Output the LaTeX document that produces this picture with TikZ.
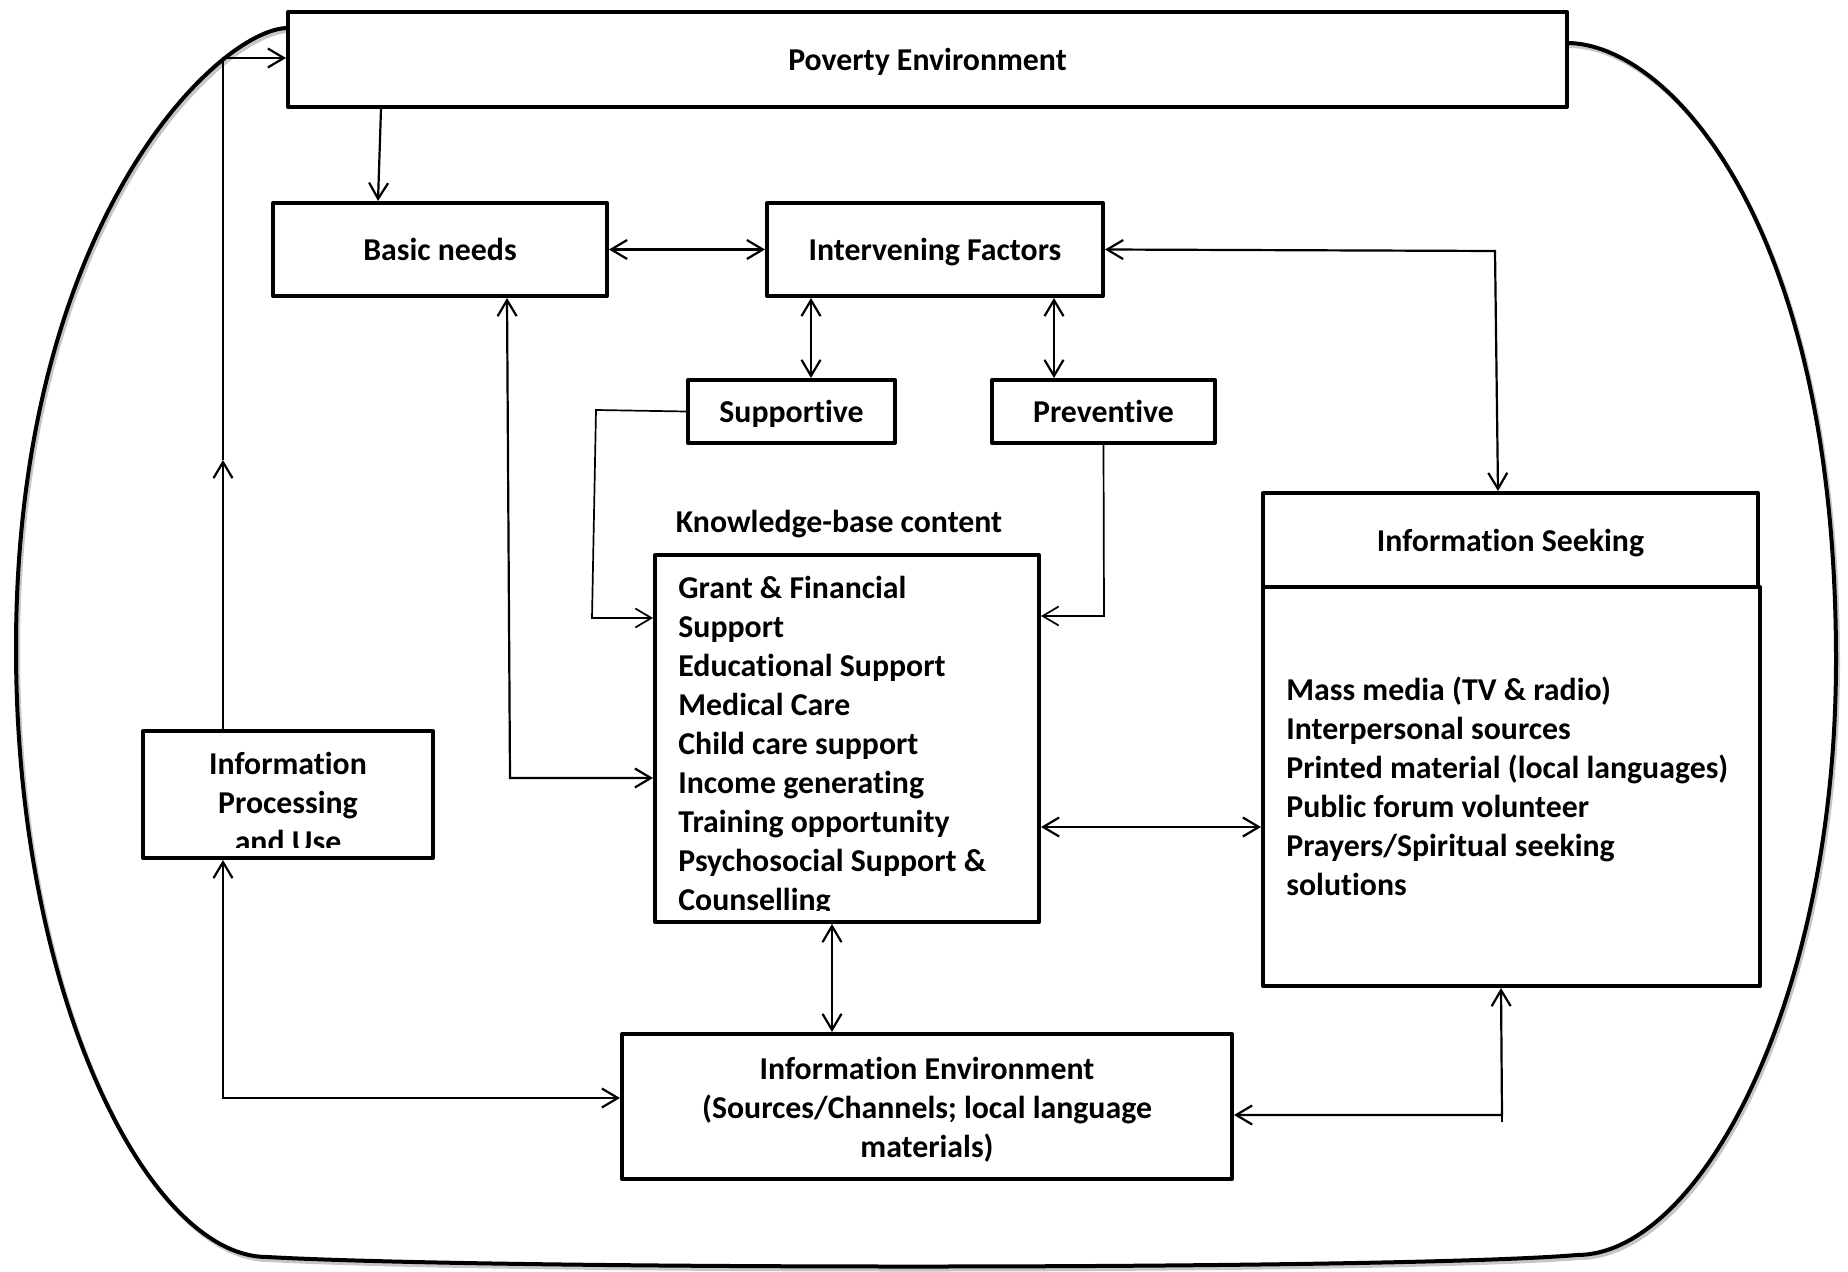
\documentclass[tikz,border=0pt]{standalone}
\usepackage{fontspec}
\setmainfont{Carlito}[Ligatures=NoCommon]
\usetikzlibrary{arrows.meta}
\newcommand\dfont{\bfseries\fontsize{15.9}{19.5}\selectfont}
\begin{document}
\begin{tikzpicture}[x=0.5pt,y=-0.5pt,
  box/.style={draw, line width=2pt, fill=white, inner sep=0pt, line join=round, font=\dfont},
  one/.style={text height=11.5pt, text depth=0pt},
  lbl/.style={inner sep=0pt, font=\dfont},
  con/.style={line width=1.1pt},
  thin/.style={line width=0.85pt},
  tip/.tip={Straight Barb[length=8pt,width=9.5pt]},
  arr/.style={con, -tip},
  darr/.style={con, tip-tip}]
\path[use as bounding box] (0,0) rectangle (1848,1272);

% outer loop
\draw[line width=2pt, line join=round,
      preaction={draw=gray!45, line width=2pt, transform canvas={xshift=1pt, yshift=-1.5pt}}]
  (288,28) .. controls (220,28) and (16,220) .. (16,648)
  .. controls (16,1000) and (150,1257) .. (267,1257)
  .. controls (500,1270) and (1400,1270) .. (1577,1255)
  .. controls (1700,1255) and (1836,1000) .. (1836,660)
  .. controls (1836,220) and (1667,43) .. (1567,43);

% boxes
\node[box, one, minimum width=639.5pt, minimum height=47.5pt] (pov) at (927.5,59.5) {Poverty Environment};
\node[box, one, minimum width=167pt, minimum height=46.5pt] (basic) at (440,249.5) {Basic needs};
\node[box, one, minimum width=168pt, minimum height=46.5pt] (interv) at (935,249.5) {Intervening Factors};
\node[box, one, minimum width=103.5pt, minimum height=31.5pt] (supp) at (791.5,411.5) {Supportive};
\node[box, one, minimum width=111.5pt, minimum height=31.5pt] (prev) at (1103.5,411.5) {Preventive};
\node[box, minimum width=192pt, minimum height=183.5pt] (kb) at (847,738.5) {};
\node[box, minimum width=248.5pt, minimum height=199.5pt] (seekbody) at (1511.5,786.5) {};
\node[box, one, minimum width=247.5pt, minimum height=47pt] (seekhead) at (1510.5,540) {Information Seeking};
\node[box, minimum width=145pt, minimum height=63.5pt] (proc) at (288,794.5) {};
\node[box, minimum width=305pt, minimum height=72.5pt] (env) at (927,1106.5) {};

% texts
\node[lbl, align=center] (envl) at (927,1110)
  {Information Environment\\(Sources/Channels; local language\\materials)};
\node[lbl, one] (kbt) at (839,521) {Knowledge-base content};
\begin{scope}
\clip (657,557) rectangle (1037,910);
\node[lbl, anchor=north west, align=left] (kbl) at (678,571)
  {\rule{0pt}{13.5pt}Grant \& Financial\\Support\\Educational Support\\Medical Care\\Child care support\\Income generating\\Training opportunity\\Psychosocial Support \&\\Counselling};
\end{scope}
\node[lbl, anchor=north west, align=left] (seekl) at (1286,673)
  {\rule{0pt}{13.5pt}Mass media (TV \& radio)\\Interpersonal sources\\Printed material (local languages)\\Public forum volunteer\\Prayers/Spiritual seeking\\solutions};
\begin{scope}
\clip (145,733) rectangle (431,847);
\node[lbl, anchor=north, align=center] (procl) at (288,747)
  {\rule{0pt}{13.5pt}Information\\Processing\\and Use};
\end{scope}

% connectors
\draw[arr] ([xshift=47.5pt]pov.south west) -- ([xshift=53.5pt]basic.north west);
\draw[darr] (basic.east) -- (interv.west);
\draw[darr] ([xshift=23pt]interv.south west) -- ([xshift=62.5pt]supp.north west);
\draw[darr] ([xshift=144.5pt]interv.south west) -- ([xshift=32pt]prev.north west);

\coordinate (k5) at (1495,251);
\draw[darr] (interv.east) -- (k5) -- ([xshift=118.5pt]seekhead.north west);

\coordinate (k6a) at (596,410);
\coordinate (k6b) at (592,618);
\draw[arr, thin] (supp.west) -- (k6a) -- (k6b) -- (kb.west |- k6b);

\coordinate (k7) at (1104,616);
\draw[arr, thin] (prev.south) -- (k7) -- (kb.east |- k7);

\coordinate (k8) at (510,778);
\draw[darr] ([xshift=118pt]basic.south west) -- (k8) -- (kb.west |- k8);

\coordinate (k9) at (1150,827);
\draw[darr] (kb.east |- k9) -- (seekbody.west |- k9);

\coordinate (k10) at (832,980);
\draw[darr] (kb.south -| k10) -- (env.north -| k10);

\coordinate (m11) at (223,460);
\coordinate (k11) at (223,58);
\draw[arr] (proc.north -| m11) -- (m11);
\draw[arr] (m11) -- (k11) -- (pov.west |- k11);

\coordinate (k12) at (223,1098);
\draw[darr] (proc.south -| k12) -- (k12) -- (env.west |- k12);

\coordinate (k13) at (1502,1115);
\draw[darr] (env.east |- k13) -- (k13) -- ([xshift=120pt]seekbody.south west);
\draw[con] (k13) -- ++(0,7);
\end{tikzpicture}
\end{document}
